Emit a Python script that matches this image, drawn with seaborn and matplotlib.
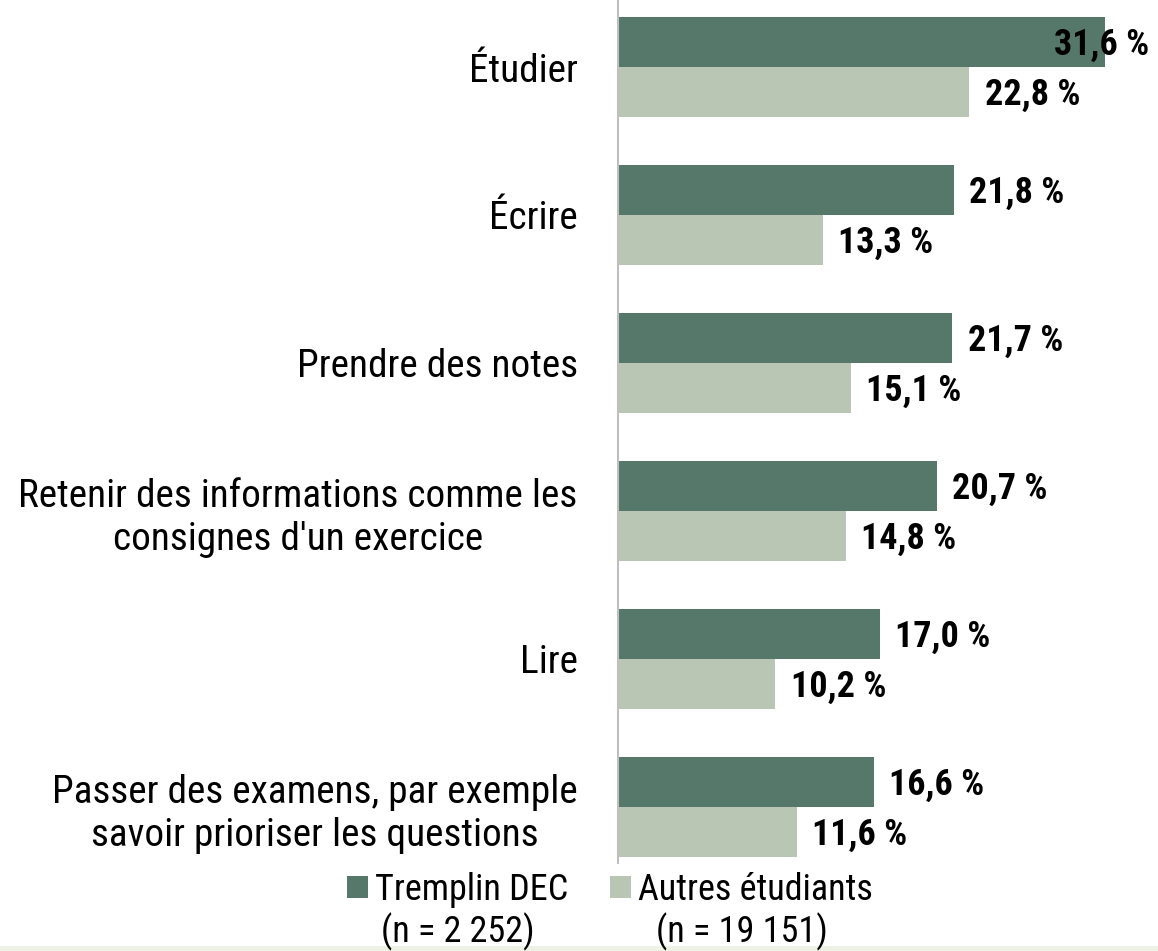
import matplotlib
matplotlib.use("Agg")
import matplotlib.pyplot as plt
import seaborn as sns
import pandas as pd
from matplotlib.patches import Rectangle

categories = [
    "Étudier",
    "Écrire",
    "Prendre des notes",
    "Retenir des informations comme les\nconsignes d'un exercice",
    "Lire",
    "Passer des examens, par exemple\nsavoir prioriser les questions",
]
tremplin = [31.6, 21.8, 21.7, 20.7, 17.0, 16.6]
autres = [22.8, 13.3, 15.1, 14.8, 10.2, 11.6]
series_names = ["Tremplin DEC", "Autres étudiants"]
series_n = ["(n = 2 252)", "(n = 19 151)"]
colors = ["#56786B", "#BAC6B4"]

df = pd.DataFrame({
    "cat": categories * 2,
    "value": tremplin + autres,
    "group": [series_names[0]] * len(categories) + [series_names[1]] * len(categories),
})

sns.set_theme(style="white")
FONT = ["Liberation Sans Narrow", "Roboto Condensed", "Archivo Narrow",
        "Fira Sans Condensed", "DejaVu Sans"]
plt.rcParams["font.family"] = FONT

W, H = 1158, 951
fig = plt.figure(figsize=(W / 100, H / 100), dpi=100)
fig.patch.set_facecolor("white")
ax = fig.add_axes([618 / W, 1 - 863 / H, (W - 618) / W, 863 / H])

sns.barplot(data=df, x="value", y="cat", hue="group", palette=colors,
            width=0.676, dodge=True, orient="h", ax=ax, saturation=1,
            legend=False, edgecolor="none")

ax.set_xlim(0, 35.05)
ax.set_ylim(5.38, -0.453)
ax.set_xlabel("")
ax.set_ylabel("")
ax.set_xticks([])
for s in ["top", "right", "bottom"]:
    ax.spines[s].set_visible(False)
ax.spines["left"].set_color("#BFBFBF")
ax.spines["left"].set_linewidth(1.5)
ax.tick_params(axis="y", length=0, pad=29, labelsize=28.3, labelcolor="black")
for lab in ax.get_yticklabels():
    lab.set_multialignment("center")
    lab.set_fontfamily(FONT)

xmax = ax.get_xlim()[1]
for cont in ax.containers:
    for p in cont.patches:
        w = p.get_width()
        yc = p.get_y() + p.get_height() / 2
        txt = f"{w:.1f}".replace(".", ",") + " %"
        if w > 30:
            ax.text(xmax - 0.6, yc + 0.02, txt, ha="right", va="center",
                    fontsize=26, fontweight="bold", color="black", clip_on=False)
        else:
            ax.text(w + 1.0, yc + 0.02, txt, ha="left", va="center",
                    fontsize=26, fontweight="bold", color="black", clip_on=False)

handles = [Rectangle((0, 0), 1, 1, facecolor=c, edgecolor="none") for c in colors]
leg = fig.legend(handles, series_names, loc="center left", ncol=2,
                 bbox_to_anchor=(347 / W, 1 - 890 / H), frameon=False,
                 fontsize=26, handlelength=0.58, handleheight=0.58,
                 handletextpad=0.2, columnspacing=1.15, borderaxespad=0,
                 borderpad=0)
for t in leg.get_texts():
    t.set_color("black")

fig.canvas.draw()
inv = fig.transFigure.inverted()
for hp, tx, sub in zip(leg.legend_handles, leg.get_texts(), series_n):
    hb = hp.get_window_extent()
    tb = tx.get_window_extent()
    cx = (hb.x0 + tb.x1) / 2
    cy = hb.y0 + hb.height / 2 - 45
    fx, fy = inv.transform((cx, cy))
    fig.text(fx, fy, sub, ha="center", va="center", fontsize=26, color="black")

fig.patches.append(Rectangle((0, 0), 1, 5 / H, transform=fig.transFigure,
                             facecolor="#EEF2E6", edgecolor="none"))

fig.savefig("out.png", dpi=100)
